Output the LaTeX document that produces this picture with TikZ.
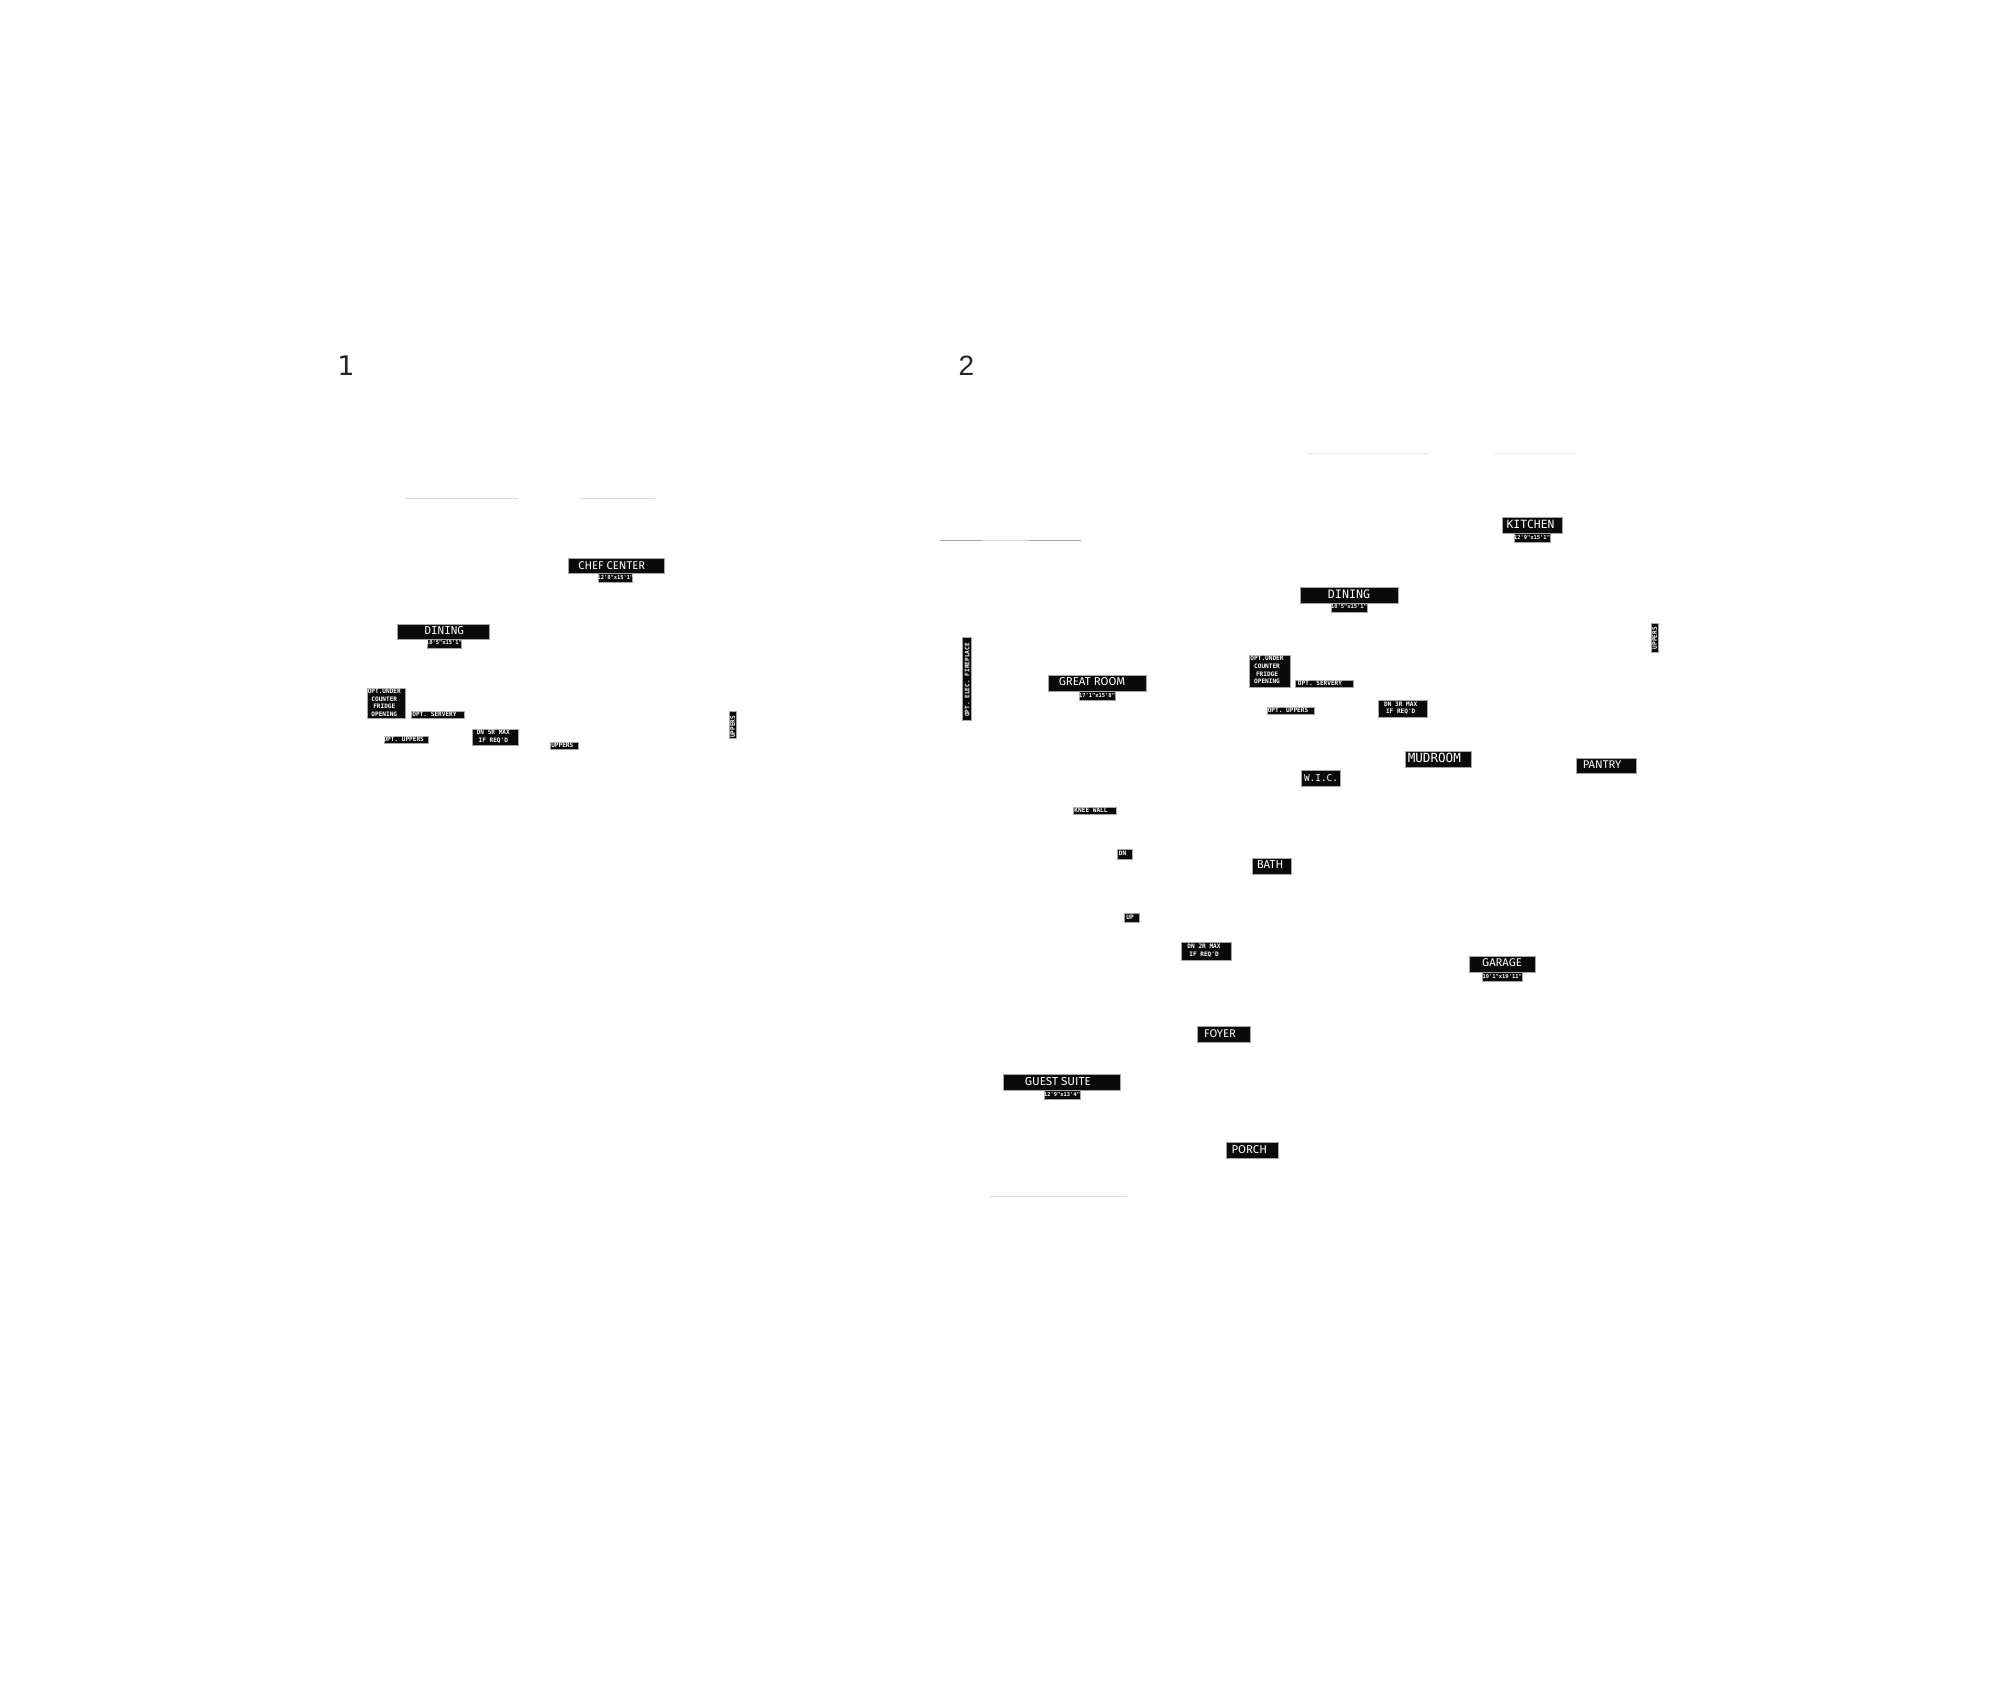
\documentclass[tikz,border=0pt]{standalone}
\usepackage{fontspec}
\setmainfont{Fira Sans}
\setmonofont{DejaVu Sans Mono}
\newfontfamily\numfont{DejaVu Sans}
\newfontfamily\numtwo{Liberation Sans}
\newcommand{\fsz}[1]{\fontsize{#1}{#1}\selectfont}
\newcommand{\mysans}[1]{\rmfamily\fsz{#1}}
\newcommand{\mymono}[1]{\ttfamily\fsz{#1}}
\newcommand{\mymonob}[1]{\ttfamily\bfseries\fsz{#1}}
\newcommand{\plate}[9]{%
  \fill[plate] (#2,#3) rectangle (#4,#5);
  \node[tag,#8] (#1) at (#6,#7) {#9};}
\tikzset{
  plate/.style={fill=black!96,draw=black!35,line width=0.25pt},
  tag/.style={text=white,inner sep=0pt,align=center,text depth=0pt},
  small/.style={font=\mymonob{3.05}},
  dims/.style={font=\mymonob{2.72}},
  hair/.style={line width=0.45pt,draw=#1},
  num/.style={text=black!85,inner sep=0pt,font=\numfont\fsz{13.5}}
}
\begin{document}
\begin{tikzpicture}[x=0.5pt,y=-0.5pt]
\useasboundingbox (0,0) rectangle (2000,1702);
\fill[white] (0,0) rectangle (2000,1702);
% panel numbers
\node[num] (n1) at (346,366) {1};
\node[num,font=\numtwo\fsz{14}] (n2) at (966.5,366) {2};
% hairlines
\coordinate (la) at (406,498.3); \coordinate (lb) at (518,498.3);
\coordinate (lc) at (580,498.3); \coordinate (ld) at (655,498.3);
\draw[hair=black!14] (la) -- (lb);
\draw[hair=black!14] (lc) -- (ld);
\coordinate (ra) at (1308,453.3); \coordinate (rb) at (1428,453.3);
\coordinate (rc) at (1494,453.3); \coordinate (rd) at (1576,453.3);
\draw[hair=black!8] (ra) -- (rb);
\draw[hair=black!8] (rc) -- (rd);
\coordinate (ma) at (939.7,540.3); \coordinate (mb) at (982,540.3);
\coordinate (mc) at (1029,540.3); \coordinate (md) at (1081,540.3);
\draw[hair=black!35] (ma) -- (mb);
\draw[hair=black!14] (mb) -- (mc);
\draw[hair=black!35] (mc) -- (md);
\coordinate (ba) at (990.3,1196.3); \coordinate (bb) at (1127,1196.3);
\draw[hair=black!14] (ba) -- (bb);
% panel 1
\plate{chef}{568.7}{558.7}{664.3}{573.7}{611.7}{565.3}{font=\mysans{5.6}}{CHEF CENTER}
\plate{chefd}{598.7}{573.7}{632.3}{582.3}{615.5}{577.3}{dims}{12'8"x15'1"}
\plate{din1}{397.7}{624}{489.7}{639}{444.3}{630.3}{font=\mymono{5.46}}{DINING}
\plate{din1d}{427}{639}{461}{648}{444}{642.7}{dims}{10'5"x15'1"}
\plate{fr1}{367}{688.3}{405.7}{718.3}{384.3}{702.6}{small}{OPT.UNDER\\[0.75pt]COUNTER\\[0.75pt]FRIDGE\\[0.75pt]OPENING}
\plate{srv1}{411}{711.3}{464.7}{718.3}{434.5}{714}{small}{OPT. SERVERY}
\plate{opu1}{384.3}{736}{428.7}{743}{403.7}{739}{small}{OPT. UPPERS}
\plate{dn5}{472.3}{729}{518.3}{745.3}{493.3}{736}{small}{DN 5R MAX\\[0.85pt]IF REQ'D}
\plate{upl}{550.7}{742.7}{578}{749}{562.3}{745.7}{small}{UPPERS}
\plate{upv1}{729}{711.3}{736}{738.7}{732.5}{726.7}{small,rotate=90}{UPPERS}
% panel 2
\plate{kit}{1502}{517}{1562}{533}{1530.5}{524}{font=\mymono{5.67}}{KITCHEN}
\plate{kitd}{1514}{533}{1550}{542.5}{1532}{537}{dims}{12'9"x15'1"}
\plate{din2}{1300}{587.5}{1398}{603}{1349}{594}{font=\mymono{5.83}}{DINING}
\plate{din2d}{1331}{603}{1367}{612.5}{1349}{606.7}{dims}{10'5"x15'1"}
\plate{upv2}{1651}{623}{1658}{652}{1654.5}{638}{small,rotate=90}{UPPERS}
\plate{fire}{962}{637.5}{971.5}{720.5}{967}{680}{small,rotate=90}{OPT. ELEC. FIREPLACE}
\plate{great}{1048}{675}{1146.5}{691}{1092}{681.7}{font=\mysans{5.7}}{GREAT ROOM}
\plate{greatd}{1079.3}{691}{1115}{700}{1097}{695}{dims}{17'1"x15'8"}
\plate{fr2}{1249}{655}{1290}{687.5}{1267}{670}{small}{OPT.UNDER\\[0.75pt]COUNTER\\[0.75pt]FRIDGE\\[0.75pt]OPENING}
\plate{srv2}{1295}{680}{1353}{687}{1320}{683}{small}{OPT. SERVERY}
\plate{opu2}{1267}{707}{1314}{714}{1288}{710}{small}{OPT. UPPERS}
\plate{dn3}{1378}{700}{1427}{717}{1400.7}{707.7}{small}{DN 3R MAX\\[0.85pt]IF REQ'D}
\plate{mud}{1405.7}{751}{1471}{767}{1434.3}{758}{font=\mymono{6.3}}{MUDROOM}
\plate{pan}{1576}{758}{1636}{773.5}{1602}{764.3}{font=\mysans{5.6}}{PANTRY}
\plate{wic}{1301}{770.7}{1340}{786.5}{1321}{778}{font=\mymono{4.7}}{W.I.C.}
\plate{knee}{1073}{807}{1116}{814.5}{1091}{810.3}{small}{KNEE WALL}
\plate{dn}{1117}{849.7}{1132.5}{859}{1122.5}{853.7}{small}{DN}
\plate{bath}{1252}{858}{1291}{874}{1270}{865}{font=\mysans{5.7}}{BATH}
\plate{up}{1124}{913.5}{1139.7}{922.7}{1130}{917.7}{small}{UP}
\plate{dn2}{1181.7}{942.3}{1231}{960}{1204}{950.3}{small}{DN 2R MAX\\[0.85pt]IF REQ'D}
\plate{gar}{1469.3}{956.3}{1535}{972}{1502}{963}{font=\mysans{5.6}}{GARAGE}
\plate{gard}{1482.3}{972}{1522}{981.7}{1502.2}{976.3}{dims}{19'1"x19'11"}
\plate{foy}{1197.7}{1026.7}{1250}{1042.7}{1220}{1033.7}{font=\mysans{5.6}}{FOYER}
\plate{guest}{1003.3}{1074.3}{1120.3}{1090.3}{1057.8}{1081.3}{font=\mysans{5.8}}{GUEST SUITE}
\plate{guestd}{1044}{1090}{1080}{1099.7}{1062}{1094.3}{dims}{12'9"x13'4"}
\plate{por}{1226}{1142.7}{1278}{1158.7}{1249.3}{1149.3}{font=\mysans{5.7}}{PORCH}
\end{tikzpicture}
\end{document}
